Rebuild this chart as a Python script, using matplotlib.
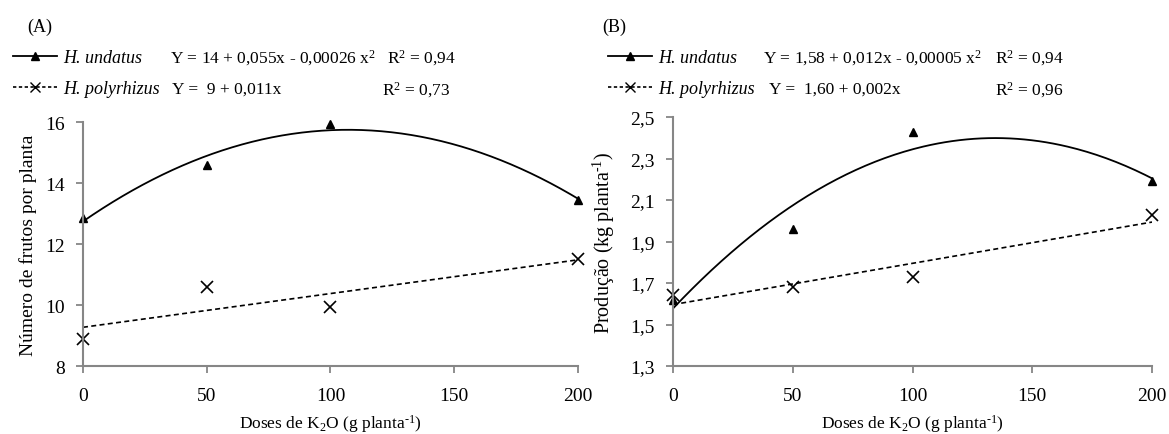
import numpy as np
import matplotlib.pyplot as plt
from matplotlib.ticker import FixedLocator

plt.rcParams['font.family'] = ['Liberation Serif', 'DejaVu Serif']
plt.rcParams['mathtext.fontset'] = 'custom'
plt.rcParams['mathtext.rm'] = 'Liberation Serif'
plt.rcParams['mathtext.it'] = 'Liberation Serif:italic'

# doses de K2O
doses = [0, 50, 100, 200]

# (A) numero de frutos por planta
frutos_undatus = [12.85, 14.6, 15.95, 13.45]
frutos_polyrhizus = [8.9, 10.6, 9.95, 11.5]

# (B) producao, kg por planta
prod_undatus = [1.62, 1.96, 2.43, 2.19]
prod_polyrhizus = [1.64, 1.68, 1.73, 2.03]

xticks = [0, 50, 100, 150, 200]
yticks_a = [8, 10, 12, 14, 16]
yticks_b = [1.3, 1.5, 1.7, 1.9, 2.1, 2.3, 2.5]

eq_a = ['Y = 14 + 0,055x - 0,00026 x$^{2}$', 'Y =  9 + 0,011x']
r2_a = ['R$^{2}$ = 0,94', 'R$^{2}$ = 0,73']
eq_b = ['Y = 1,58 + 0,012x - 0,00005 x$^{2}$', 'Y =  1,60 + 0,002x']
r2_b = ['R$^{2}$ = 0,94', 'R$^{2}$ = 0,96']

grey = '#868686'
fs_tick = 14
fs_leg = 13
fs_eq = 12.5

fig = plt.figure(figsize=(11.69, 4.35), dpi=100)
ax_a = fig.add_axes([0.071, 0.1563, 0.4234, 0.5609])
ax_b = fig.add_axes([0.5757, 0.1563, 0.4098, 0.5724])


def draw(ax, y1, y2, yticks, ylabel, fmt, ylab_x, ylab_fs):
    xs = np.linspace(0, 200, 200)
    c1 = np.polyfit(doses, y1, 2)
    c2 = np.polyfit(doses, y2, 1)
    ax.plot(xs, np.polyval(c1, xs), color='black', lw=1.3)
    ax.plot(xs, np.polyval(c2, xs), color='black', lw=1.2, ls=(0, (3, 2)))
    ax.plot(doses, y1, ls='none', marker='^', color='black', ms=6, clip_on=False)
    ax.plot(doses, y2, ls='none', marker='x', color='black', ms=8, mew=1.2, clip_on=False)
    ax.set_xlim(0, 200)
    ax.set_ylim(yticks[0], yticks[-1])
    ax.xaxis.set_major_locator(FixedLocator(xticks))
    ax.yaxis.set_major_locator(FixedLocator(yticks))
    ax.set_yticklabels([fmt(v) for v in yticks])
    for s in ['top', 'right']:
        ax.spines[s].set_visible(False)
    for s in ['left', 'bottom']:
        ax.spines[s].set_color(grey)
        ax.spines[s].set_linewidth(1.5)
    ax.tick_params(colors=grey, labelcolor='black', labelsize=fs_tick, length=5, width=1.3)
    ax.tick_params(axis='x', pad=10)
    ax.tick_params(axis='y', pad=8)
    ax.set_ylabel(ylabel, fontsize=ylab_fs)
    ax.yaxis.set_label_coords(ylab_x, 0.5)
    ax.set_xlabel(r'Doses de K$_{2}$O (g planta$^{\text{-1}}$)', fontsize=12.5, labelpad=6)


draw(ax_a, frutos_undatus, frutos_polyrhizus, yticks_a,
     'Número de frutos por planta', lambda v: '%d' % v, -0.093, 14)
draw(ax_b, prod_undatus, prod_polyrhizus, yticks_b,
     r'Produção (kg planta$^{\text{-1}}$)', lambda v: ('%.1f' % v).replace('.', ','), -0.117, 14.5)


def legend(x0, eq, r2, xeq, xr2, tag, xtag):
    handles = [
        plt.Line2D([], [], color='black', lw=1.3, marker='^', ms=6),
        plt.Line2D([], [], color='black', lw=1.2, ls=(0, (2, 1.5)), marker='x', ms=7),
    ]
    fig.legend(handles, ['H. undatus', 'H. polyrhizus'], loc='center left',
               bbox_to_anchor=(x0, 1 - 74 / 435), frameon=False, numpoints=1,
               handlelength=2.45, handletextpad=0.33, labelspacing=0.76,
               borderpad=0, borderaxespad=0,
               prop={'family': 'Liberation Serif', 'style': 'italic', 'size': fs_leg})
    ys = [1 - 58 / 435, 1 - 90 / 435]
    for i in range(2):
        fig.text(xeq[i], ys[i], eq[i], fontsize=fs_eq, va='center')
        fig.text(xr2[i], ys[i], r2[i], fontsize=fs_eq, va='center')
    fig.text(xtag, 1 - 27 / 435, tag, fontsize=13, va='center')


legend(13 / 1169, eq_a, r2_a, [170 / 1169, 172 / 1169], [387 / 1169, 382 / 1169], '(A)', 27 / 1169)
legend(608 / 1169, eq_b, r2_b, [763 / 1169, 769 / 1169], [995 / 1169, 995 / 1169], '(B)', 602 / 1169)

fig.savefig('out.png', dpi=100)
